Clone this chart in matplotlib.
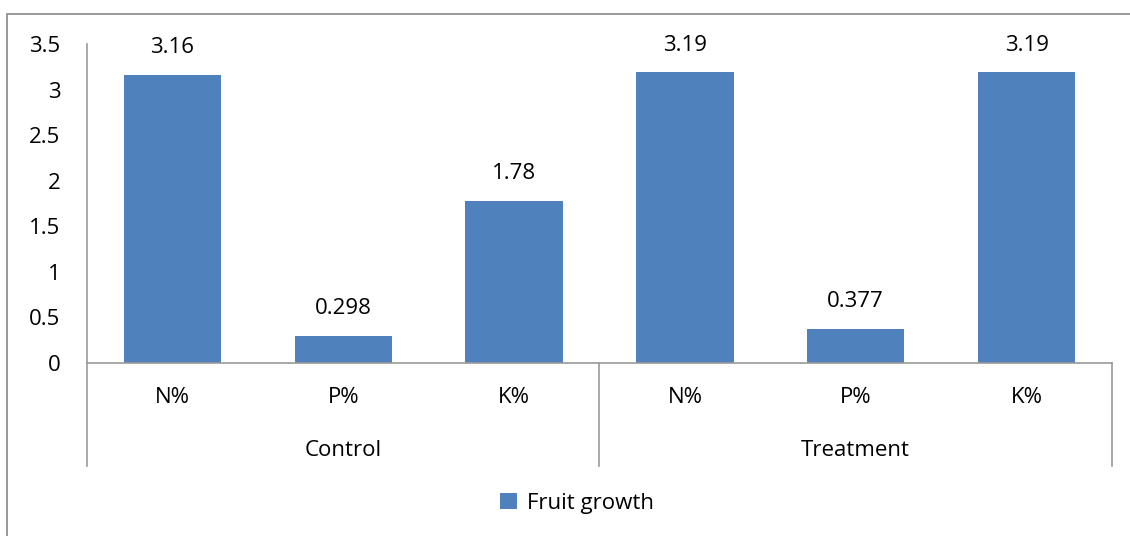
import numpy as np
import matplotlib.pyplot as plt
from matplotlib.patches import Rectangle
from matplotlib.lines import Line2D

groups = ["Control", "Treatment"]
nutrients = ["N%", "P%", "K%"]
control_values = [3.16, 0.298, 1.78]
treatment_values = [3.19, 0.377, 3.19]
value_labels = ["3.16", "0.298", "1.78", "3.19", "0.377", "3.19"]
series_name = "Fruit growth"

plt.rcParams['font.family'] = ['Open Sans', 'DejaVu Sans']
fs = 16

W, H = 1130, 536
fig = plt.figure(figsize=(W / 100, H / 100), dpi=100)

# outer chart border (only top and left show)
fig.patches.append(Rectangle((7 / W, -0.1), 1.2, 1 - 14 / H + 0.1, transform=fig.transFigure,
                             fill=False, edgecolor="#888888", linewidth=1.2))

left, right, top, zero = 87, 1112, 44, 363
ax = fig.add_axes([left / W, 1 - zero / H, (right - left) / W, (zero - top) / H])

values = control_values + treatment_values
labels = nutrients * len(groups)
x = np.arange(len(values))
bars = ax.bar(x, values, width=0.57, color="#4F81BD", label=series_name)
for xi, v, lab in zip(x, values, value_labels):
    ax.annotate(lab, (xi, v), xytext=(0, 12), textcoords="offset points",
                ha="center", va="bottom", fontsize=fs)

ax.set_xlim(-0.5, len(values) - 0.5)
ax.set_ylim(0, 3.5)
ax.set_yticks(np.arange(0, 3.51, 0.5))
ax.set_yticklabels(["0", "0.5", "1", "1.5", "2", "2.5", "3", "3.5"])
ax.set_xticks(x)
ax.set_xticklabels(labels)
ax.tick_params(axis="y", length=0, pad=19, labelsize=fs)
ax.tick_params(axis="x", length=0, pad=17, labelsize=fs)

for s in ["top", "right"]:
    ax.spines[s].set_visible(False)
for s in ["left", "bottom"]:
    ax.spines[s].set_color("#999999")
    ax.spines[s].set_linewidth(1.2)

# group separators extending below the axis
drop = -(466 - zero) / (zero - top)
for xs in [-0.5, 2.5, 5.5]:
    ax.add_line(Line2D([xs, xs], [drop, 0], color="#999999",
                       linewidth=1.2, clip_on=False, transform=ax.get_xaxis_transform()))
for gi, g in enumerate(groups):
    ax.text(gi * 3 + 1, -(450 - zero) / (zero - top), g, ha="center", va="center",
            fontsize=fs, transform=ax.get_xaxis_transform())

fig.legend(handles=[bars], labels=[series_name], loc="center",
           bbox_to_anchor=(577 / W, 1 - 503 / H), frameon=False,
           handlelength=0.75, handleheight=0.75, handletextpad=0.45, fontsize=fs)

fig.savefig("out.png", dpi=100)
